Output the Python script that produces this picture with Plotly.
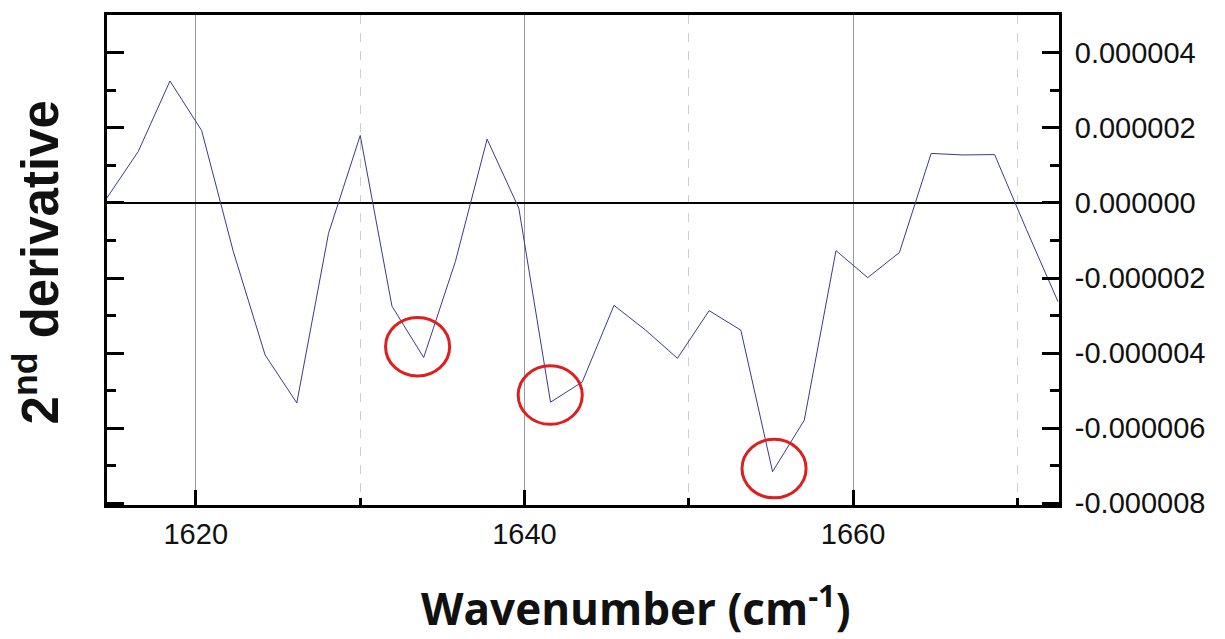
import plotly.graph_objects as go

# ---- data ----
wavenumber = [1614.57, 1616.50, 1618.43, 1620.36, 1622.29, 1624.22, 1626.15, 1628.08,
              1630.01, 1631.94, 1633.87, 1635.80, 1637.73, 1639.66, 1641.59, 1643.52,
              1645.45, 1647.38, 1649.31, 1651.24, 1653.17, 1655.10, 1657.03, 1658.96,
              1660.89, 1662.82, 1664.75, 1666.68, 1668.61, 1670.54, 1672.47]
second_derivative = [0.12e-6, 1.37e-6, 3.25e-6, 1.93e-6, -1.30e-6, -4.05e-6, -5.33e-6, -0.81e-6,
                     1.80e-6, -2.75e-6, -4.12e-6, -1.56e-6, 1.70e-6, -0.14e-6, -5.31e-6, -4.77e-6,
                     -2.73e-6, -3.39e-6, -4.14e-6, -2.87e-6, -3.39e-6, -7.16e-6, -5.79e-6, -1.27e-6,
                     -1.99e-6, -1.32e-6, 1.32e-6, 1.28e-6, 1.29e-6, -0.70e-6, -2.63e-6]

# highlighted minima (red circles), centres in data units
circle_x = [1633.50, 1641.57, 1655.19]
circle_y = [-3.83e-6, -5.12e-6, -7.08e-6]

x_tickvals = [1620, 1640, 1660]
x_ticktext = ["1620", "1640", "1660"]
y_tickvals = [4e-6, 2e-6, 0, -2e-6, -4e-6, -6e-6, -8e-6]
y_ticktext = ["0.000004", "0.000002", "0.000000", "-0.000002", "-0.000004", "-0.000006", "-0.000008"]

# ---- style ----
CIRCLE_HALF_W = 1.95      # in wavenumber units
CIRCLE_HALF_H = 0.78e-6   # in y units
TICK_FONT = dict(family="Liberation Sans, Arial, sans-serif", size=29, color="#111111")

fig = go.Figure()
fig.add_trace(go.Scatter(
    x=wavenumber, y=second_derivative, mode="lines",
    line=dict(color="#3a3a8c", width=1), showlegend=False, hoverinfo="skip"))

for cx, cy in zip(circle_x, circle_y):
    fig.add_shape(type="circle", xref="x", yref="y",
                  x0=cx - CIRCLE_HALF_W, x1=cx + CIRCLE_HALF_W,
                  y0=cy - CIRCLE_HALF_H, y1=cy + CIRCLE_HALF_H,
                  line=dict(color="#dd1f1f", width=3), layer="above")

fig.update_layout(
    width=1225, height=639,
    margin=dict(l=107, r=166, t=15, b=134),
    paper_bgcolor="white", plot_bgcolor="white",
    showlegend=False,
    xaxis=dict(
        range=[1614.6, 1672.53],
        tickvals=x_tickvals, ticktext=x_ticktext,
        ticks="inside", ticklen=15, tickwidth=3, tickcolor="black",
        showline=True, linecolor="black", linewidth=3, mirror=True,
        showgrid=True, gridcolor="#9a9a9a", gridwidth=1,
        minor=dict(dtick=10, tick0=1610, ticks="inside", ticklen=7, tickwidth=3,
                   tickcolor="black", showgrid=True, gridcolor="#cfcfcf",
                   griddash="dash", gridwidth=1),
        zeroline=False,
        tickfont=TICK_FONT, ticklabelstandoff=1,
    ),
    yaxis=dict(
        range=[-8.05e-6, 5.01e-6],
        side="right",
        tickvals=y_tickvals, ticktext=y_ticktext,
        ticks="inside", ticklen=17, tickwidth=3, tickcolor="black",
        showline=True, linecolor="black", linewidth=3, mirror="allticks",
        minor=dict(dtick=1e-6, tick0=0, ticks="inside", ticklen=9, tickwidth=3,
                   tickcolor="black", showgrid=False),
        showgrid=False,
        zeroline=True, zerolinecolor="black", zerolinewidth=2,
        tickfont=TICK_FONT, ticklabelstandoff=7,
    ),
)

fig.add_annotation(
    text="2<sup>nd</sup> derivative", textangle=-90,
    xref="paper", yref="paper", x=-0.074, y=0.494,
    xanchor="center", yanchor="middle", showarrow=False,
    font=dict(family="Liberation Sans, Arial, sans-serif", size=51, color="#111111", weight="bold"))

fig.add_annotation(
    text="Wavenumber (cm<sup>-1</sup>)",
    xref="paper", yref="paper", x=0.5557, y=-0.206,
    xanchor="center", yanchor="middle", showarrow=False,
    font=dict(family="Open Sans, Lato, sans-serif", size=44, color="#111111", weight="bold"))

fig.write_html("out.html")
